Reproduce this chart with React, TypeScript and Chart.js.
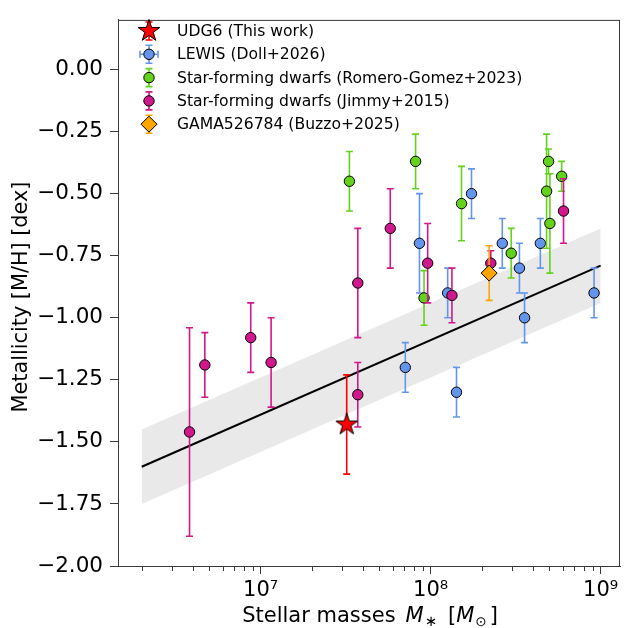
import React, { useEffect, useRef } from 'react';
import { Chart, registerables } from 'chart.js';

Chart.register(...registerables);

const FONT = 'DejaVu Sans';
const AXIS = '#3a3a3a';

// ---- data (stellar mass in Msun, metallicity [M/H] in dex, symmetric error) ----
const udgMass = [3.21e7];
const udgMet = [-1.43];
const udgErr = [0.2];

const lewisMass = [7.1e7, 8.6e7, 1.26e8, 1.42e8, 1.74e8, 2.64e8, 3.33e8, 3.57e8, 4.42e8, 9.15e8];
const lewisMet = [-1.2, -0.7, -0.9, -1.3, -0.5, -0.7, -0.8, -1.0, -0.7, -0.9];
const lewisErr = [0.1, 0.2, 0.1, 0.1, 0.1, 0.1, 0.1, 0.1, 0.1, 0.1];

const rgMass = [3.33e7, 8.16e7, 9.15e7, 1.52e8, 2.98e8, 4.94e8, 4.81e8, 5.03e8, 5.9e8];
const rgMet = [-0.45, -0.37, -0.92, -0.54, -0.74, -0.37, -0.49, -0.62, -0.43];
const rgErr = [0.12, 0.11, 0.11, 0.15, 0.1, 0.05, 0.23, 0.2, 0.06];

const jimmyMass = [3.82e6, 4.7e6, 8.75e6, 1.153e7, 3.73e7, 3.73e7, 5.79e7, 9.61e7, 1.335e8, 2.26e8, 6.05e8];
const jimmyMet = [-1.46, -1.19, -1.08, -1.18, -0.86, -1.31, -0.64, -0.78, -0.91, -0.78, -0.57];
const jimmyErr = [0.42, 0.13, 0.14, 0.18, 0.22, 0.13, 0.16, 0.16, 0.11, 0.05, 0.13];

const gamaMass = [2.21e8];
const gamaMet = [-0.82];
const gamaErr = [0.11];

const fitMass = [2e6, 1e9];
const fitMet = [-1.6, -0.79];
const fitScatter = 0.15;

const yTickValues = [-2, -1.75, -1.5, -1.25, -1, -0.75, -0.5, -0.25, 0];
const xTickValues = [1e7, 1e8, 1e9];
const xTickLabels = ['10\u2077', '10\u2078', '10\u2079'];
const X_MIN = 1.45e6;
const X_MAX = 1.3e9;
const Y_MIN = -2.0;
const Y_MAX = 0.2;

const yTitle = 'Metallicity [M/H] [dex]';
const labels = [
  'UDG6 (This work)',
  'LEWIS (Doll+2026)',
  'Star-forming dwarfs (Romero-Gomez+2023)',
  'Star-forming dwarfs (Jimmy+2015)',
  'GAMA526784 (Buzzo+2025)',
];

const COLORS = {
  udg: '#ff0000',
  lewis: '#6495ED',
  rg: '#62D21B',
  jimmy: '#D1178C',
  gama: '#FFA500',
};

const pts = (xs: number[], ys: number[]) => xs.map((x, i) => ({ x, y: ys[i] }));

function makeStar(size: number, R: number, fill: string) {
  const c = document.createElement('canvas');
  c.width = size;
  c.height = size;
  const ctx = c.getContext('2d')!;
  const cx = size / 2;
  const cy = size / 2;
  const r = R * 0.382;
  ctx.beginPath();
  for (let i = 0; i < 10; i++) {
    const ang = -Math.PI / 2 + (i * Math.PI) / 5;
    const rad = i % 2 === 0 ? R : r;
    const px = cx + rad * Math.cos(ang);
    const py = cy + rad * Math.sin(ang);
    if (i === 0) ctx.moveTo(px, py);
    else ctx.lineTo(px, py);
  }
  ctx.closePath();
  ctx.fillStyle = fill;
  ctx.fill();
  ctx.lineWidth = 1;
  ctx.strokeStyle = '#000';
  ctx.stroke();
  return c;
}

const errorBarPlugin = {
  id: 'errorBars',
  beforeDatasetDraw(chart: any, args: any) {
    const ds = chart.data.datasets[args.index];
    if (!ds.errY) return;
    const ys = chart.scales.y;
    const ctx = chart.ctx;
    ctx.save();
    ctx.strokeStyle = ds.errColor;
    ctx.lineWidth = 1.6;
    args.meta.data.forEach((pt: any, i: number) => {
      const d = ds.data[i];
      const top = ys.getPixelForValue(d.y + ds.errY[i]);
      const bot = ys.getPixelForValue(d.y - ds.errY[i]);
      const x = pt.x;
      ctx.beginPath();
      ctx.moveTo(x, top);
      ctx.lineTo(x, bot);
      ctx.moveTo(x - 3.5, top);
      ctx.lineTo(x + 3.5, top);
      ctx.moveTo(x - 3.5, bot);
      ctx.lineTo(x + 3.5, bot);
      ctx.stroke();
    });
    ctx.restore();
  },
};

const decorPlugin = {
  id: 'decor',
  afterDraw(chart: any) {
    const ctx = chart.ctx;
    const a = chart.chartArea;
    const xs = chart.scales.x;
    ctx.save();
    // frame
    ctx.strokeStyle = AXIS;
    ctx.lineWidth = 1;
    ctx.strokeRect(a.left + 0.5, a.top + 0.5, a.right - a.left - 1, a.bottom - a.top);
    // minor ticks on log axis
    ctx.beginPath();
    for (let e = 6; e <= 9; e++) {
      for (let k = 2; k <= 9; k++) {
        const v = k * Math.pow(10, e);
        if (v < X_MIN || v > X_MAX) continue;
        const px = Math.round(xs.getPixelForValue(v)) + 0.5;
        ctx.moveTo(px, a.bottom);
        ctx.lineTo(px, a.bottom + 5);
      }
    }
    ctx.stroke();

    // y-axis title
    ctx.save();
    ctx.translate(21.5, 297);
    ctx.rotate(-Math.PI / 2);
    ctx.font = `20.8px "${FONT}"`;
    ctx.fillStyle = '#000';
    ctx.textAlign = 'center';
    ctx.textBaseline = 'middle';
    ctx.fillText(yTitle, 0, 0);
    ctx.restore();

    // x-axis title with math parts
    const base = 622;
    const parts: { t: string; f: string; dy: number; gap?: number }[] = [
      { t: 'Stellar masses', f: `21px "${FONT}"`, dy: 0 },
      { t: 'M', f: `italic 21px "${FONT}"`, dy: 0, gap: 10 },
      { t: '\u2217', f: `14.7px "${FONT}"`, dy: 4, gap: 1 },
      { t: '[', f: `21px "${FONT}"`, dy: 0, gap: 11 },
      { t: 'M', f: `italic 21px "${FONT}"`, dy: 0, gap: 0 },
      { t: '\u2299', f: `13.5px "${FONT}"`, dy: 4, gap: 1 },
      { t: ']', f: `21px "${FONT}"`, dy: 0, gap: 3 },
    ];
    let total = 0;
    const widths = parts.map((p) => {
      ctx.font = p.f;
      const w = ctx.measureText(p.t).width + (p.gap ?? 0);
      total += w;
      return w;
    });
    let x = (a.left + a.right) / 2 + 1 - total / 2;
    ctx.fillStyle = '#000';
    ctx.textBaseline = 'alphabetic';
    ctx.textAlign = 'left';
    parts.forEach((p, i) => {
      ctx.font = p.f;
      ctx.fillText(p.t, x + (p.gap ?? 0), base + p.dy);
      x += widths[i];
    });

    // legend
    const mx = 149;
    const tx = 177;
    const y0 = 31;
    const step = 23.3;
    const entries = chart.data.datasets.filter((d: any) => d.legendKind);
    entries.sort((p: any, q: any) => p.legendOrder - q.legendOrder);
    entries.forEach((d: any, i: number) => {
      const y = y0 + i * step;
      ctx.strokeStyle = d.errColor;
      ctx.lineWidth = 1.6;
      ctx.beginPath();
      ctx.moveTo(mx, y - 9);
      ctx.lineTo(mx, y + 9);
      ctx.moveTo(mx - 3.5, y - 9);
      ctx.lineTo(mx + 3.5, y - 9);
      ctx.moveTo(mx - 3.5, y + 9);
      ctx.lineTo(mx + 3.5, y + 9);
      if (d.legendKind === 'circleX') {
        ctx.moveTo(mx - 9, y);
        ctx.lineTo(mx + 9, y);
        ctx.moveTo(mx - 9, y - 3.5);
        ctx.lineTo(mx - 9, y + 3.5);
        ctx.moveTo(mx + 9, y - 3.5);
        ctx.lineTo(mx + 9, y + 3.5);
      }
      ctx.stroke();
      ctx.fillStyle = d.backgroundColor;
      ctx.strokeStyle = '#000';
      ctx.lineWidth = 1;
      if (d.legendKind === 'star') {
        const img = d.pointStyle;
        ctx.drawImage(img, mx - img.width / 2, y - img.height / 2);
      } else if (d.legendKind === 'diamond') {
        const r = 8;
        ctx.beginPath();
        ctx.moveTo(mx, y - r);
        ctx.lineTo(mx + r, y);
        ctx.lineTo(mx, y + r);
        ctx.lineTo(mx - r, y);
        ctx.closePath();
        ctx.fill();
        ctx.stroke();
      } else {
        ctx.beginPath();
        ctx.arc(mx, y, 5.2, 0, Math.PI * 2);
        ctx.fill();
        ctx.stroke();
      }
      ctx.fillStyle = '#000';
      ctx.font = `15.6px "${FONT}"`;
      ctx.textBaseline = 'middle';
      ctx.fillText(d.label, tx, y + 1);
    });
    ctx.restore();
  },
};

const fmtY = (v: number) => {
  const s = Math.abs(v).toFixed(2);
  return v < 0 ? '\u2212' + s : s;
};

export default function App() {
  const ref = useRef<HTMLCanvasElement>(null);

  useEffect(() => {
    if (!ref.current) return;
    const starImg = makeStar(26, 11.5, COLORS.udg);
    const bandUpper = fitMet.map((v) => v + fitScatter);
    const bandLower = fitMet.map((v) => v - fitScatter);

    const circle = (label: string, legendOrder: number, color: string, xs: number[], ys: number[], err: number[], order: number, kind = 'circle') => ({
      type: 'scatter',
      label,
      data: pts(xs, ys),
      backgroundColor: color,
      borderColor: '#000',
      borderWidth: 1,
      pointRadius: 5.2,
      pointHoverRadius: 5.2,
      pointStyle: 'circle',
      errY: err,
      errColor: color,
      legendKind: kind,
      legendOrder,
      order,
    });

    const chart = new Chart(ref.current, {
      type: 'scatter',
      data: {
        datasets: [
          {
            type: 'line',
            label: 'band upper',
            data: pts(fitMass, bandUpper),
            borderWidth: 0,
            pointRadius: 0,
            backgroundColor: '#e9e9e9',
            fill: '+1',
            order: 20,
          } as any,
          {
            type: 'line',
            label: 'band lower',
            data: pts(fitMass, bandLower),
            borderWidth: 0,
            pointRadius: 0,
            fill: false,
            order: 19,
          } as any,
          {
            type: 'line',
            label: 'fit',
            data: pts(fitMass, fitMet),
            borderColor: '#000',
            borderWidth: 2,
            pointRadius: 0,
            fill: false,
            order: 18,
          } as any,
          circle(labels[1], 1, COLORS.lewis, lewisMass, lewisMet, lewisErr, 6, 'circleX'),
          circle(labels[2], 2, COLORS.rg, rgMass, rgMet, rgErr, 5),
          circle(labels[3], 3, COLORS.jimmy, jimmyMass, jimmyMet, jimmyErr, 4),
          {
            type: 'scatter',
            label: labels[4],
            data: pts(gamaMass, gamaMet),
            backgroundColor: COLORS.gama,
            borderColor: '#000',
            borderWidth: 1,
            pointRadius: 8,
            pointHoverRadius: 8,
            pointStyle: 'rectRot',
            errY: gamaErr,
            errColor: COLORS.gama,
            legendKind: 'diamond',
            legendOrder: 4,
            order: 3,
          } as any,
          {
            type: 'scatter',
            label: labels[0],
            data: pts(udgMass, udgMet),
            backgroundColor: COLORS.udg,
            borderColor: '#000',
            borderWidth: 1,
            pointRadius: 12,
            pointStyle: starImg,
            errY: udgErr,
            errColor: COLORS.udg,
            legendKind: 'star',
            legendOrder: 0,
            order: 1,
          } as any,
        ] as any,
      },
      options: {
        responsive: false,
        animation: false,
        devicePixelRatio: 1,
        layout: { padding: { top: 11, right: 4, left: 0, bottom: 0 } },
        plugins: {
          legend: { display: false },
          tooltip: { enabled: false },
        },
        scales: {
          x: {
            type: 'logarithmic',
            min: X_MIN,
            max: X_MAX,
            afterBuildTicks: (s: any) => {
              s.ticks = xTickValues.map((v) => ({ value: v }));
            },
            afterFit: (s: any) => {
              s.height = 62;
            },
            ticks: {
              callback: (v: any) => xTickLabels[xTickValues.indexOf(Number(v))] ?? '',
              autoSkip: false,
              maxRotation: 0,
              minRotation: 0,
              color: '#000',
              font: { family: FONT, size: 21 },
              padding: 3.5,
            },
            grid: { drawOnChartArea: false, tickLength: 8, color: AXIS, tickWidth: 1 },
            border: { color: AXIS, width: 1 },
          } as any,
          y: {
            type: 'linear',
            min: Y_MIN,
            max: Y_MAX,
            afterBuildTicks: (s: any) => {
              s.ticks = yTickValues.map((v) => ({ value: v }));
            },
            afterFit: (s: any) => {
              s.width = 118;
            },
            ticks: {
              callback: (v: any) => fmtY(Number(v)),
              color: '#000',
              font: { family: FONT, size: 21.5 },
              padding: 7,
            },
            grid: { drawOnChartArea: false, tickLength: 8, color: AXIS, tickWidth: 1 },
            border: { color: AXIS, width: 1 },
          } as any,
        },
      },
      plugins: [errorBarPlugin, decorPlugin],
    } as any);

    return () => chart.destroy();
  }, []);

  return (
    <div style={{ position: 'fixed', left: 0, top: 0, width: 633, height: 628, background: '#fff' }}>
      <canvas ref={ref} width={633} height={628} style={{ display: 'block', width: 633, height: 628 }} />
    </div>
  );
}
